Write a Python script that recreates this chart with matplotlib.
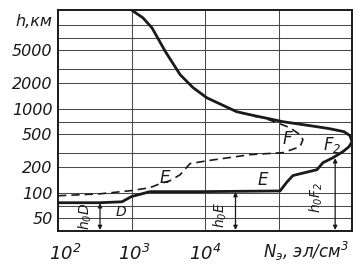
import matplotlib
matplotlib.use("Agg")
import matplotlib.pyplot as plt
from matplotlib.transforms import ScaledTranslation

plt.rcParams['mathtext.fontset'] = 'custom'
plt.rcParams['mathtext.rm'] = 'DejaVu Sans:italic'
plt.rcParams['mathtext.it'] = 'DejaVu Sans:italic'
plt.rcParams['mathtext.default'] = 'it'

# Day profile (solid): electron density N (el/cm^3) vs height h (km)
day_N = [1e2, 373, 743, 1000, 1790, 8550, 1.05e5, 1.31e5, 1.57e5, 1.96e5, 3.34e5,
         4.03e5, 5.5e5, 7.5e5, 9.1e5, 1e6, 9.4e5, 7.8e5, 5.0e5, 3.34e5, 1.15e5,
         4.1e4, 2.7e4, 1.06e4, 6.9e3, 4.6e3, 2.9e3, 1.9e3, 1.43e3, 1e3]
day_h = [76, 76, 78, 90, 103, 103, 105, 135, 160, 168, 188,
         228, 261, 308, 353, 405, 478, 533, 578, 611, 701,
         849, 922, 1350, 1780, 2540, 4770, 9200, 12100, 15000]

# Night profile (dashed)
night_N = [1e2, 373, 1000, 1790, 2.44e3, 3.34e3, 4.6e3, 6.25e3, 1.06e4, 4.1e4,
           1.15e5, 1.96e5, 2.15e5, 1.96e5, 1.43e5, 9.5e4, 6.2e4, 4.1e4]
night_h = [92, 97, 106, 115, 128, 139, 164, 222, 240, 284,
           300, 353, 428, 491, 595, 683, 782, 826]

y_major = [50, 100, 200, 500, 1000, 2000, 5000]
y_minor = [70, 300, 700, 3000, 7000, 10000]
x_ticks = [1e2, 1e3, 1e4]
x_ticklabels = [r'$10^{2}$', r'$10^{3}$', r'$10^{4}$']

fig = plt.figure(figsize=(3.6, 2.71), dpi=100)
ax = fig.add_axes([58/360, 1 - 231/271, (352 - 58)/360, (231 - 10)/271])
ax.set_xscale('log')
ax.set_yscale('log')
ax.set_xlim(1e2, 1e6)
ax.set_ylim(35, 15000)

ink = '#1a1a1a'
for N in [1e3, 1e4, 1e5]:
    ax.axvline(N, color='#4a4a4a', lw=0.75, zorder=1)
for h in y_major + y_minor:
    ax.axhline(h, color='#4a4a4a', lw=0.75, zorder=1)

ax.plot(day_N, day_h, color=ink, lw=2.0, zorder=3, solid_joinstyle='round')
ax.plot(night_N, night_h, color=ink, lw=1.2, ls=(0, (5, 3)), zorder=3)

for s in ax.spines.values():
    s.set_linewidth(1.4)
    s.set_color(ink)

ax.set_yticks(y_major)
ax.set_yticks([], minor=True)
ax.set_yticklabels([str(v) for v in y_major], fontsize=11.5, fontstyle='italic', color=ink)
ax.set_xticks(x_ticks)
ax.set_xticks([], minor=True)
ax.set_xticklabels(x_ticklabels, fontsize=13, color=ink)
ax.tick_params(length=0, pad=4)
ax.tick_params(axis='x', pad=9)
offs = [7, 3, 0]
for lab, dx in zip(ax.get_xticklabels(), offs):
    lab.set_transform(lab.get_transform() + ScaledTranslation(dx/100, 0, fig.dpi_scale_trans))

ax.text(-0.02, 0.946, 'h,км', transform=ax.transAxes, ha='right', va='center',
        fontsize=11.5, fontstyle='italic', color=ink)
ax.text(0.697, -0.122, r'$N_{э}$, эл/см$^{3}$', transform=ax.transAxes,
        ha='left', va='baseline', fontsize=12, fontstyle='italic', color=ink)

arrow_kw = dict(arrowstyle='<|-|>', color=ink, lw=0.9, mutation_scale=6, shrinkA=0, shrinkB=0)
ax.annotate('', xy=(373, 36), xytext=(373, 75), arrowprops=arrow_kw, zorder=4)
ax.annotate('', xy=(2.6e4, 36), xytext=(2.6e4, 102), arrowprops=arrow_kw, zorder=4)
ax.annotate('', xy=(5.9e5, 36), xytext=(5.9e5, 258), arrowprops=arrow_kw, zorder=4)

lab_kw = dict(fontsize=10, rotation=90, ha='center', va='center', color=ink)
ax.text(234, 53, r'$h_{0}D$', **lab_kw)
ax.text(1.6e4, 54, r'$h_{0}E$', **lab_kw)
ax.text(3.3e5, 87, r'$h_{0}F_{2}$', **lab_kw)

txt_kw = dict(ha='center', va='center', color=ink)
ax.text(720, 59, r'$D$', fontsize=10, **txt_kw)
ax.text(2.9e3, 151, r'$E$', fontsize=12, **txt_kw)
ax.text(6.2e4, 143, r'$E$', fontsize=12, **txt_kw)
ax.text(1.35e5, 440, r'$F$', fontsize=12, **txt_kw)
ax.text(5.4e5, 373, r'$F_{2}$', fontsize=12, **txt_kw)

fig.savefig('out.png', dpi=100, facecolor='white')
